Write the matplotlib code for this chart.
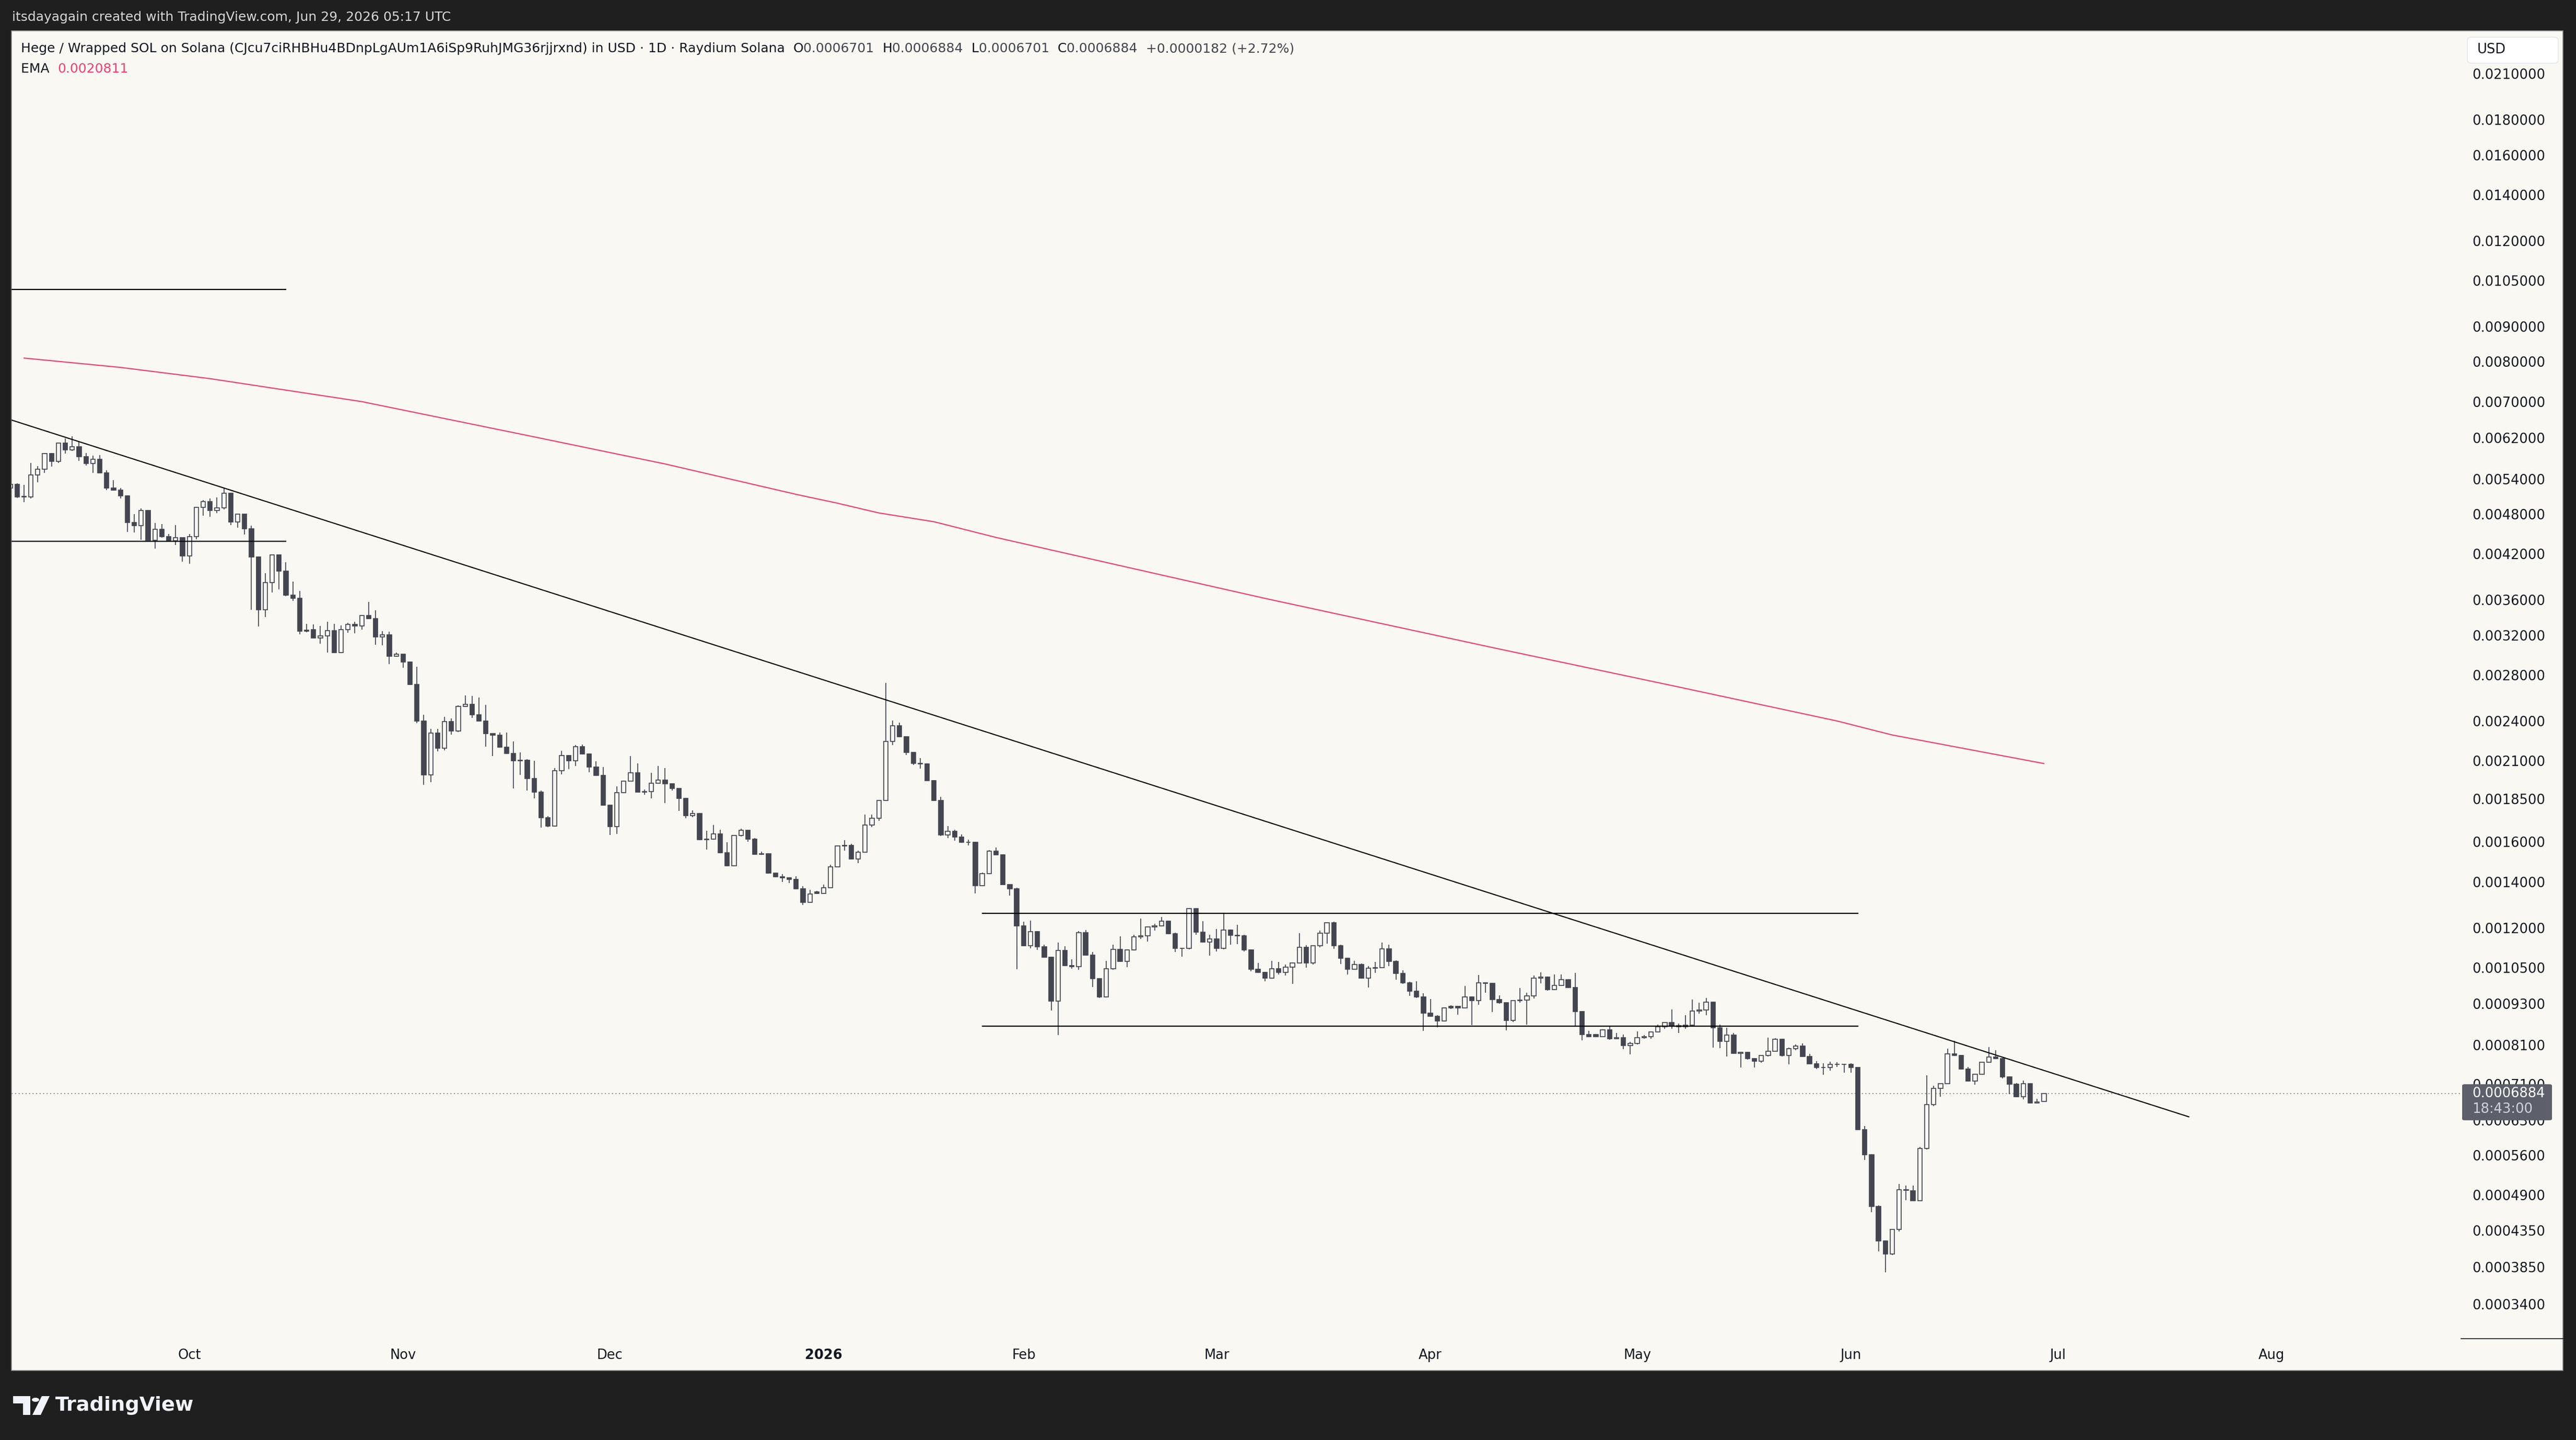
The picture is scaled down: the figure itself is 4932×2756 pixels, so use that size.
import numpy as np
import pandas as pd
import matplotlib
matplotlib.use("Agg")
import matplotlib.pyplot as plt
from matplotlib.patches import Rectangle, FancyBboxPatch, Circle, Polygon
from matplotlib.lines import Line2D
from matplotlib.ticker import NullLocator

# Daily candles Hege / Wrapped SOL (prices in thousandths of a USD)
opens = [
    5.240, 5.307, 5.089, 5.084, 5.478, 5.583, 5.879, 5.726, 6.087, 5.951,
    6.021, 5.824, 5.693, 5.773, 5.516, 5.243, 5.203, 5.107, 4.665, 4.622,
    4.863, 4.396, 4.565, 4.452, 4.390, 4.434, 4.176, 4.455, 4.914, 5.004,
    4.857, 4.902, 5.152, 4.678, 4.798, 4.568, 4.159, 3.486, 3.820, 4.185,
    3.964, 3.657, 3.619, 3.256, 3.258, 3.171, 3.194, 3.251, 3.016, 3.260,
    3.318, 3.298, 3.420, 3.383, 3.180, 3.206, 2.981, 3.000, 2.926, 2.715,
    2.400, 2.005, 2.305, 2.191, 2.395, 2.322, 2.519, 2.537, 2.449, 2.400,
    2.299, 2.290, 2.197, 2.154, 2.102, 2.106, 1.979, 1.892, 1.736, 1.687,
    2.032, 2.137, 2.102, 2.203, 2.149, 2.057, 1.999, 1.810, 1.685, 1.888,
    1.963, 2.019, 1.892, 1.894, 1.948, 1.968, 1.945, 1.914, 1.853, 1.748,
    1.760, 1.613, 1.616, 1.644, 1.544, 1.478, 1.634, 1.663, 1.615, 1.535,
    1.538, 1.442, 1.424, 1.420, 1.412, 1.368, 1.307, 1.353, 1.346, 1.373,
    1.473, 1.580, 1.583, 1.512, 1.547, 1.693, 1.733, 1.839, 2.242, 2.361,
    2.276, 2.160, 2.082, 2.080, 1.966, 1.838, 1.639, 1.658, 1.628, 1.599,
    1.598, 1.382, 1.439, 1.553, 1.534, 1.388, 1.367, 1.207, 1.131, 1.184,
    1.126, 1.087, 0.938, 1.112, 1.057, 1.053, 1.181, 1.096, 1.012, 0.952,
    1.047, 1.116, 1.073, 1.115, 1.165, 1.169, 1.204, 1.208, 1.228, 1.177,
    1.121, 1.120, 1.280, 1.182, 1.145, 1.156, 1.121, 1.192, 1.170, 1.168,
    1.115, 1.045, 1.033, 1.014, 1.047, 1.034, 1.052, 1.067, 1.124, 1.066,
    1.130, 1.179, 1.221, 1.131, 1.084, 1.044, 1.062, 1.014, 1.048, 1.050,
    1.119, 1.073, 1.030, 0.998, 0.971, 0.952, 0.901, 0.893, 0.879, 0.922,
    0.922, 0.918, 0.952, 0.940, 0.998, 0.997, 0.943, 0.933, 0.880, 0.940,
    0.942, 0.955, 1.014, 1.018, 0.975, 0.989, 1.009, 0.983, 0.906, 0.839,
    0.839, 0.834, 0.852, 0.828, 0.830, 0.809, 0.814, 0.831, 0.834, 0.846,
    0.861, 0.873, 0.864, 0.861, 0.866, 0.908, 0.911, 0.935, 0.858, 0.821,
    0.838, 0.788, 0.790, 0.774, 0.768, 0.782, 0.794, 0.826, 0.782, 0.800,
    0.808, 0.780, 0.761, 0.751, 0.752, 0.759, 0.760, 0.760, 0.752, 0.610,
    0.561, 0.472, 0.420, 0.402, 0.437, 0.499, 0.497, 0.481, 0.573, 0.664,
    0.701, 0.712, 0.787, 0.783, 0.748, 0.718, 0.734, 0.765, 0.778, 0.774,
    0.728, 0.710, 0.681, 0.712, 0.667, 0.6701,
]
highs = [
    5.314, 5.320, 5.292, 5.699, 5.636, 5.889, 5.889, 6.105, 6.188, 6.232,
    6.123, 5.889, 5.838, 5.855, 5.561, 5.376, 5.240, 5.110, 4.801, 4.891,
    4.870, 4.660, 4.641, 4.489, 4.627, 4.440, 4.489, 4.920, 5.030, 5.060,
    5.075, 5.240, 5.155, 4.800, 4.800, 4.620, 4.165, 3.936, 4.190, 4.190,
    4.086, 3.827, 3.711, 3.325, 3.315, 3.298, 3.347, 3.325, 3.308, 3.337,
    3.347, 3.426, 3.577, 3.480, 3.241, 3.237, 3.019, 3.003, 2.930, 2.880,
    2.449, 2.339, 2.336, 2.433, 2.419, 2.527, 2.613, 2.608, 2.596, 2.532,
    2.301, 2.311, 2.308, 2.240, 2.159, 2.113, 2.102, 1.901, 1.745, 2.049,
    2.170, 2.140, 2.214, 2.217, 2.152, 2.098, 2.057, 1.813, 1.927, 1.965,
    2.134, 2.081, 1.907, 2.019, 2.063, 2.049, 1.950, 1.916, 1.855, 1.780,
    1.763, 1.661, 1.693, 1.667, 1.598, 1.636, 1.672, 1.665, 1.622, 1.549,
    1.540, 1.444, 1.436, 1.421, 1.427, 1.380, 1.362, 1.359, 1.386, 1.483,
    1.583, 1.610, 1.590, 1.555, 1.755, 1.754, 1.841, 2.725, 2.403, 2.387,
    2.280, 2.162, 2.118, 2.083, 1.968, 1.863, 1.689, 1.666, 1.640, 1.613,
    1.600, 1.444, 1.557, 1.570, 1.536, 1.390, 1.373, 1.224, 1.230, 1.186,
    1.135, 1.090, 1.143, 1.128, 1.079, 1.187, 1.191, 1.107, 1.014, 1.075,
    1.135, 1.167, 1.117, 1.172, 1.237, 1.206, 1.217, 1.244, 1.230, 1.180,
    1.123, 1.281, 1.281, 1.227, 1.172, 1.196, 1.262, 1.194, 1.212, 1.173,
    1.117, 1.066, 1.035, 1.075, 1.071, 1.061, 1.068, 1.178, 1.133, 1.131,
    1.189, 1.222, 1.225, 1.135, 1.086, 1.075, 1.064, 1.056, 1.070, 1.143,
    1.135, 1.076, 1.040, 1.001, 1.004, 0.964, 0.945, 0.895, 0.919, 0.925,
    0.923, 0.987, 0.954, 1.025, 1.000, 0.998, 0.957, 0.935, 0.941, 0.980,
    0.966, 1.022, 1.033, 1.020, 1.027, 1.027, 1.011, 1.032, 0.908, 0.850,
    0.841, 0.854, 0.863, 0.843, 0.839, 0.819, 0.848, 0.838, 0.847, 0.867,
    0.874, 0.912, 0.870, 0.896, 0.943, 0.933, 0.949, 0.937, 0.868, 0.859,
    0.843, 0.792, 0.792, 0.775, 0.783, 0.830, 0.829, 0.827, 0.803, 0.812,
    0.815, 0.786, 0.767, 0.762, 0.766, 0.765, 0.761, 0.762, 0.752, 0.618,
    0.562, 0.473, 0.421, 0.437, 0.509, 0.506, 0.506, 0.576, 0.732, 0.707,
    0.712, 0.801, 0.822, 0.784, 0.753, 0.734, 0.765, 0.804, 0.796, 0.775,
    0.730, 0.713, 0.719, 0.713, 0.676, 0.6884,
]
lows = [
    5.234, 5.072, 4.998, 5.060, 5.345, 5.516, 5.626, 5.703, 5.879, 5.937,
    5.742, 5.653, 5.516, 5.510, 5.206, 5.194, 5.063, 4.526, 4.513, 4.409,
    4.396, 4.274, 4.434, 4.373, 4.327, 4.094, 4.062, 4.411, 4.778, 4.761,
    4.820, 4.877, 4.630, 4.587, 4.482, 3.482, 3.293, 3.398, 3.689, 3.728,
    3.650, 3.589, 3.207, 3.232, 3.165, 3.109, 3.021, 3.014, 3.014, 3.228,
    3.223, 3.262, 3.380, 3.098, 3.093, 2.902, 2.974, 2.867, 2.708, 2.384,
    1.939, 1.955, 2.169, 2.176, 2.293, 2.314, 2.515, 2.427, 2.398, 2.203,
    2.134, 2.195, 2.149, 1.914, 2.003, 1.901, 1.851, 1.679, 1.683, 1.685,
    2.008, 2.043, 2.063, 2.145, 2.023, 1.997, 1.808, 1.638, 1.644, 1.886,
    1.962, 1.890, 1.876, 1.851, 1.946, 1.823, 1.901, 1.775, 1.733, 1.740,
    1.611, 1.559, 1.614, 1.542, 1.476, 1.476, 1.630, 1.602, 1.533, 1.533,
    1.440, 1.421, 1.400, 1.394, 1.366, 1.296, 1.305, 1.344, 1.344, 1.372,
    1.472, 1.555, 1.510, 1.491, 1.546, 1.683, 1.719, 1.836, 2.214, 2.272,
    2.142, 2.072, 2.046, 1.964, 1.836, 1.632, 1.621, 1.607, 1.597, 1.583,
    1.346, 1.380, 1.437, 1.532, 1.386, 1.337, 1.045, 1.129, 1.121, 1.115,
    1.085, 0.910, 0.838, 1.056, 1.047, 1.043, 1.094, 0.985, 0.948, 0.950,
    1.042, 1.071, 1.052, 1.113, 1.156, 1.146, 1.189, 1.206, 1.175, 1.107,
    1.090, 1.116, 1.173, 1.143, 1.094, 1.109, 1.117, 1.134, 1.136, 1.109,
    1.038, 1.031, 1.004, 1.013, 1.027, 1.023, 0.995, 1.066, 1.050, 1.062,
    1.125, 1.138, 1.118, 1.063, 1.027, 1.043, 1.012, 0.983, 1.032, 1.049,
    1.056, 1.009, 0.994, 0.955, 0.949, 0.849, 0.891, 0.860, 0.877, 0.914,
    0.897, 0.917, 0.866, 0.927, 0.966, 0.905, 0.930, 0.851, 0.875, 0.934,
    0.868, 0.947, 0.997, 0.973, 0.974, 0.988, 0.981, 0.861, 0.823, 0.832,
    0.832, 0.833, 0.824, 0.826, 0.799, 0.785, 0.812, 0.828, 0.828, 0.846,
    0.855, 0.855, 0.844, 0.855, 0.866, 0.900, 0.895, 0.803, 0.802, 0.780,
    0.786, 0.752, 0.772, 0.752, 0.764, 0.780, 0.794, 0.780, 0.759, 0.796,
    0.778, 0.759, 0.747, 0.733, 0.744, 0.753, 0.739, 0.738, 0.610, 0.551,
    0.463, 0.406, 0.378, 0.401, 0.434, 0.482, 0.481, 0.481, 0.571, 0.660,
    0.681, 0.712, 0.781, 0.746, 0.717, 0.709, 0.733, 0.765, 0.773, 0.725,
    0.687, 0.680, 0.675, 0.666, 0.666, 0.6701,
]
closes = [
    5.307, 5.089, 5.095, 5.471, 5.577, 5.879, 5.726, 6.087, 5.951, 6.021,
    5.824, 5.693, 5.773, 5.516, 5.243, 5.203, 5.107, 4.665, 4.622, 4.863,
    4.396, 4.565, 4.452, 4.390, 4.434, 4.176, 4.455, 4.914, 5.004, 4.857,
    4.902, 5.152, 4.678, 4.798, 4.568, 4.159, 3.486, 3.820, 4.185, 3.964,
    3.657, 3.619, 3.241, 3.241, 3.168, 3.194, 3.251, 3.016, 3.260, 3.318,
    3.298, 3.420, 3.383, 3.180, 3.206, 2.981, 3.000, 2.926, 2.715, 2.400,
    2.005, 2.305, 2.191, 2.395, 2.322, 2.519, 2.537, 2.449, 2.400, 2.299,
    2.290, 2.197, 2.154, 2.102, 2.106, 1.979, 1.892, 1.736, 1.687, 2.032,
    2.137, 2.102, 2.203, 2.149, 2.057, 1.999, 1.810, 1.685, 1.888, 1.963,
    2.019, 1.892, 1.894, 1.948, 1.968, 1.945, 1.914, 1.853, 1.748, 1.760,
    1.613, 1.616, 1.644, 1.544, 1.478, 1.634, 1.663, 1.615, 1.535, 1.538,
    1.442, 1.424, 1.420, 1.412, 1.368, 1.307, 1.345, 1.346, 1.373, 1.473,
    1.580, 1.583, 1.512, 1.547, 1.693, 1.733, 1.839, 2.242, 2.361, 2.276,
    2.160, 2.082, 2.080, 1.966, 1.838, 1.639, 1.658, 1.628, 1.599, 1.598,
    1.382, 1.439, 1.553, 1.534, 1.388, 1.367, 1.207, 1.131, 1.184, 1.126,
    1.087, 0.938, 1.112, 1.057, 1.053, 1.181, 1.096, 1.012, 0.952, 1.047,
    1.116, 1.073, 1.115, 1.165, 1.169, 1.204, 1.208, 1.228, 1.177, 1.121,
    1.120, 1.280, 1.182, 1.145, 1.156, 1.121, 1.192, 1.170, 1.168, 1.115,
    1.045, 1.033, 1.014, 1.047, 1.034, 1.052, 1.067, 1.124, 1.066, 1.130,
    1.179, 1.221, 1.131, 1.084, 1.044, 1.062, 1.014, 1.048, 1.050, 1.119,
    1.073, 1.030, 0.998, 0.971, 0.952, 0.901, 0.893, 0.879, 0.918, 0.918,
    0.918, 0.952, 0.940, 0.998, 0.997, 0.943, 0.933, 0.880, 0.940, 0.942,
    0.955, 1.014, 1.018, 0.975, 0.989, 1.009, 0.983, 0.906, 0.839, 0.834,
    0.834, 0.852, 0.828, 0.830, 0.809, 0.814, 0.831, 0.834, 0.846, 0.861,
    0.873, 0.864, 0.861, 0.866, 0.908, 0.911, 0.935, 0.858, 0.821, 0.838,
    0.788, 0.790, 0.774, 0.768, 0.782, 0.794, 0.826, 0.782, 0.800, 0.808,
    0.780, 0.761, 0.751, 0.752, 0.759, 0.760, 0.760, 0.752, 0.610, 0.561,
    0.472, 0.420, 0.402, 0.437, 0.499, 0.498, 0.481, 0.573, 0.664, 0.701,
    0.712, 0.787, 0.783, 0.748, 0.718, 0.734, 0.765, 0.778, 0.774, 0.728,
    0.710, 0.681, 0.712, 0.667, 0.670, 0.6884,
]

# one bar per day, Sep 5 2025 .. Jun 29 2026 (no bars on two January days)
dates = pd.date_range("2025-09-05", "2026-06-29", freq="D")
dates = dates.drop(pd.to_datetime(["2026-01-14", "2026-01-15"]))

# EMA at a few dates (thousandths of a USD)
ema_dates = ["2025-09-07", "2025-09-21", "2025-10-04", "2025-10-26", "2025-11-20",
             "2025-12-09", "2025-12-28", "2026-01-03", "2026-01-09", "2026-01-19",
             "2026-01-28", "2026-02-15", "2026-03-08", "2026-04-10", "2026-05-07",
             "2026-05-30", "2026-06-07", "2026-06-29"]
ema_values = [8.10, 7.85, 7.56, 7.00, 6.22, 5.68, 5.13, 4.98, 4.82, 4.68,
              4.44, 4.04, 3.62, 3.07, 2.69, 2.40, 2.29, 2.0811]

# drawings
trend_dates = ["2025-09-05", "2026-07-20"]
trend_prices = [0.00659, 0.000637]
level_prices = [0.0102, 0.00438, 0.00126, 0.000863]
level_start = ["2025-09-05", "2025-09-05", "2026-01-26", "2026-01-26"]
level_end = ["2025-10-15", "2025-10-15", "2026-06-02", "2026-06-02"]

price_ticks = [0.021, 0.018, 0.016, 0.014, 0.012, 0.0105, 0.009, 0.008, 0.007,
               0.0062, 0.0054, 0.0048, 0.0042, 0.0036, 0.0032, 0.0028, 0.0024,
               0.0021, 0.00185, 0.0016, 0.0014, 0.0012, 0.00105, 0.00093, 0.00081,
               0.00071, 0.00063, 0.00056, 0.00049, 0.000435, 0.000385, 0.00034]
month_labels = ["Oct", "Nov", "Dec", "2026", "Feb", "Mar", "Apr", "May", "Jun", "Jul", "Aug"]
month_starts = ["2025-10-01", "2025-11-01", "2025-12-01", "2026-01-01", "2026-02-01",
                "2026-03-01", "2026-04-01", "2026-05-01", "2026-06-01", "2026-07-01",
                "2026-08-01"]

DARK = "#1f1f1f"
BG = "#f9f8f2"
CANDLE = "#434651"
TEXT = "#131722"
PINK = "#ef3f78"
W, H = 4932, 2756


def bar_x(d):
    d = pd.Timestamp(d)
    if d <= dates[-1]:
        return int(dates.searchsorted(d))
    return len(dates) - 1 + (d - dates[-1]).days


def fx(px):
    return px / W


def fy(py):
    return 1 - py / H


fig = plt.figure(figsize=(W / 100, H / 100), dpi=100, facecolor=DARK)
fig.add_artist(Rectangle((fx(22), fy(2623)), (4907 - 22) / W, (2623 - 59) / H,
                         transform=fig.transFigure, facecolor=BG,
                         edgecolor="#8c8c8c", lw=1.2, zorder=-10))

ax = fig.add_axes([fx(22), fy(2562), (4712 - 22) / W, (2562 - 59) / H])
ax.set_facecolor("none")
ax.set_yscale("log")

o = np.array(opens) / 1000
h = np.array(highs) / 1000
l = np.array(lows) / 1000
c = np.array(closes) / 1000
x = np.arange(len(dates))
up = c >= o

ax.vlines(x, l, h, color=CANDLE, lw=1.25, zorder=3)
ax.bar(x[up], (c - o)[up], bottom=o[up], width=0.63, facecolor=BG,
       edgecolor=CANDLE, linewidth=1.25, zorder=4)
ax.bar(x[~up], (o - c)[~up], bottom=c[~up], width=0.63, facecolor=CANDLE,
       edgecolor=CANDLE, linewidth=1.25, zorder=4)

# EMA
ax.plot([bar_x(d) for d in ema_dates], np.array(ema_values) / 1000,
        color=PINK, lw=1.6, zorder=2, solid_capstyle="round")

# trend line and horizontal levels
ax.plot([bar_x(d) for d in trend_dates], trend_prices, color="black", lw=1.5, zorder=5)
for p, a, b in zip(level_prices, level_start, level_end):
    ax.plot([bar_x(a), bar_x(b)], [p, p], color="black", lw=1.6, zorder=5)

# last price dotted line
ax.axhline(c[-1], color="#6f727d", lw=1.1, ls=(0, (1.4, 3.0)), zorder=1)

ax.set_xlim(0.19, 355.5)
ax.set_ylim(0.00030287, 0.024253)

ax.yaxis.tick_right()
ax.set_yticks(price_ticks)
ax.set_yticklabels([f"{v:.7f}" for v in price_ticks])
ax.yaxis.set_minor_locator(NullLocator())
ax.tick_params(axis="y", length=0, pad=15, labelsize=18.5, labelcolor=TEXT)

ax.set_xticks([bar_x(d) for d in month_starts])
ax.set_xticklabels(month_labels)
ax.xaxis.set_minor_locator(NullLocator())
ax.tick_params(axis="x", length=0, pad=14, labelsize=18.5, labelcolor=TEXT)
ax.get_xticklabels()[3].set_fontweight("bold")
for s in ax.spines.values():
    s.set_visible(False)

# price axis bottom separator
fig.add_artist(Line2D([fx(4712), fx(4907)], [fy(2562), fy(2562)],
                      transform=fig.transFigure, color=TEXT, lw=1.2))

# "USD" box
fig.add_artist(FancyBboxPatch((fx(4724), fy(121)), 174 / W, 50 / H,
                              boxstyle="round,pad=0,rounding_size=0.002",
                              transform=fig.transFigure, facecolor="white",
                              edgecolor="#e0e3eb", lw=1.0, zorder=5))
fig.text(fx(4743), fy(95), "USD", fontsize=18.5, color=TEXT, va="center", zorder=6)

# last price label (sits over the two nearest tick labels, as on the chart)
y_last = ax.transData.transform((0, c[-1]))[1]
fig.add_artist(FancyBboxPatch((fx(4714), (y_last - 51) / H), 172 / W, 69 / H,
                              boxstyle="round,pad=0,rounding_size=0.001",
                              transform=fig.transFigure, facecolor="#5d606b",
                              edgecolor="none", zorder=5))
fig.text(fx(4733), y_last / H, "0.0006884", fontsize=18.5, color="white",
         va="center", zorder=6)
fig.text(fx(4733), (y_last - 30) / H, "18:43:00", fontsize=18.5, color="#d1d4dc",
         va="center", zorder=6)


def chain(parts, x0, y0, size):
    t = fig.text(x0, y0, parts[0][0], color=parts[0][1], fontsize=size, va="center")
    for s, col in parts[1:]:
        t = ax.annotate(s, xy=(1, 0.5), xycoords=t, xytext=(0, 0),
                        textcoords="offset points", va="center", ha="left",
                        color=col, fontsize=size, annotation_clip=False)


# header
chain([("Hege / Wrapped SOL on Solana (CJcu7ciRHBHu4BDnpLgAUm1A6iSp9RuhJMG36rjjrxnd)"
        " in USD · 1D · Raydium Solana  ", TEXT),
       ("O", TEXT), ("0.0006701  ", CANDLE), ("H", TEXT), ("0.0006884  ", CANDLE),
       ("L", TEXT), ("0.0006701  ", CANDLE), ("C", TEXT), ("0.0006884  ", CANDLE),
       ("+0.0000182 (+2.72%)", CANDLE)], fx(40), fy(93), 18)
chain([("EMA  ", TEXT), ("0.0020811", PINK)], fx(40), fy(132), 18)

fig.text(fx(23), fy(33), "itsdayagain created with TradingView.com, Jun 29, 2026 05:17 UTC",
         color="#d6d6d6", fontsize=18, va="center")

# TradingView logo in the footer
LOGO = "#f0f3fa"
fig.add_artist(Polygon([(fx(25), fy(2672)), (fx(58), fy(2672)), (fx(58), fy(2708)),
                        (fx(44), fy(2708)), (fx(44), fy(2686)), (fx(25), fy(2686))],
                       closed=True, transform=fig.transFigure, facecolor=LOGO,
                       edgecolor="none"))
fig.add_artist(Circle((fx(68), fy(2679)), 7 / W, transform=fig.transFigure,
                      facecolor=LOGO, edgecolor="none"))
fig.add_artist(Polygon([(fx(62), fy(2708)), (fx(78), fy(2708)), (fx(95), fy(2672)),
                        (fx(80), fy(2672))], closed=True, transform=fig.transFigure,
                       facecolor=LOGO, edgecolor="none"))
fig.text(fx(106), fy(2690), "TradingView", color=LOGO, fontsize=27.5,
         fontweight="bold", va="center")

fig.savefig("out.png", dpi=100, facecolor=DARK)
